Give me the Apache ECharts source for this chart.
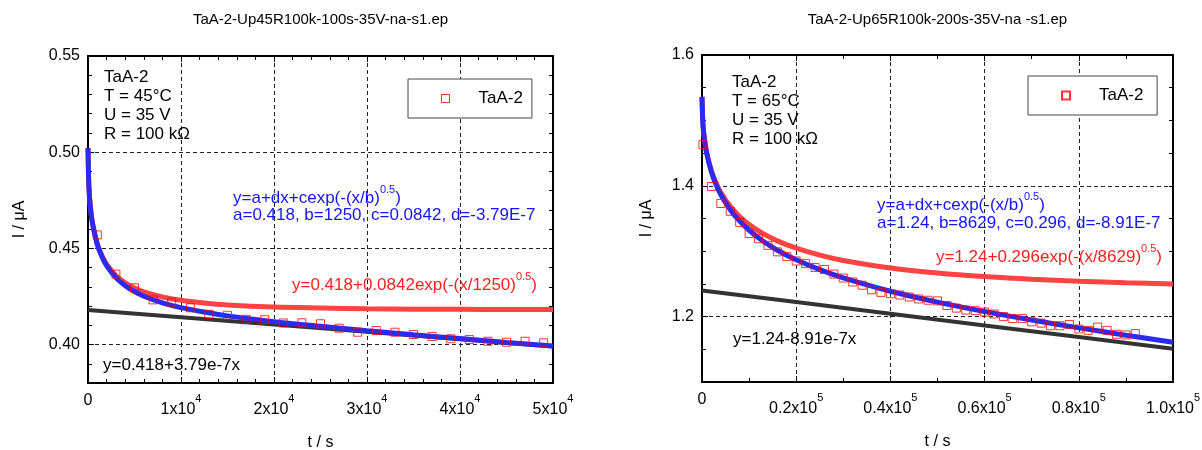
<!DOCTYPE html>
<html><head><meta charset="utf-8">
<script src="https://cdn.jsdelivr.net/npm/echarts@6/dist/echarts.min.js"></script>
<style>html,body{margin:0;padding:0;background:#fff}#c{width:1202px;height:450px}</style>
</head><body><div id="c"></div>
<script>
// ---------- data ----------
const titles = ['TaA-2-Up45R100k-100s-35V-na-s1.ep', 'TaA-2-Up65R100k-200s-35V-na -s1.ep'];
const seriesNames = ['TaA-2', 'TaA-2 '];

// left panel: measured points
const leftScatterT = [1000, 3000, 5000, 7000, 9000, 11000, 13000, 15000, 17000, 19000, 21000, 23000, 25000, 27000, 29000, 31000, 33000, 35000, 37000, 39000, 41000, 43000, 45000, 47000, 49000];
const leftScatterI = [0.457, 0.4366, 0.4295, 0.4232, 0.4220, 0.4191, 0.4157, 0.4152, 0.4131, 0.4129, 0.4112, 0.4113, 0.4108, 0.4085, 0.4064, 0.4073, 0.4064, 0.4052, 0.4042, 0.4030, 0.4026, 0.4017, 0.4012, 0.4017, 0.4009];
// left panel: fitted curves
const leftFitT   = [0, 100, 250, 500, 1000, 1500, 2000, 3000, 4000, 5000, 6000, 8000, 10000, 12500, 15000, 20000, 25000, 30000, 35000, 40000, 45000, 50000];
const leftRedFit = [0.5022, 0.4815, 0.4718, 0.4627, 0.4524, 0.4462, 0.4418, 0.4359, 0.4321, 0.4294, 0.4274, 0.4247, 0.4230, 0.4216, 0.4206, 0.4195, 0.4190, 0.4186, 0.4184, 0.4183, 0.4182, 0.4182];
const leftBlueFit = [0.5022, 0.4815, 0.4717, 0.4625, 0.4520, 0.4456, 0.4410, 0.4348, 0.4306, 0.4275, 0.4251, 0.4217, 0.4192, 0.4169, 0.4149, 0.4119, 0.4095, 0.4072, 0.4051, 0.4031, 0.4011, 0.3992];
const leftLineT = [0, 10000, 20000, 30000, 40000, 50000];
const leftLineI = [0.4180, 0.4142, 0.4104, 0.4066, 0.4028, 0.3990];

// right panel: measured points
const rightScatterT = [200, 2000, 4000, 6000, 8000, 10000, 12000, 14000, 16000, 18000, 20000, 22000, 24000, 26000, 28000, 30000, 32000, 34000, 36000, 38000, 40000, 42000, 44000, 46000, 48000, 50000, 52000, 54000, 56000, 58000, 60000, 62000, 64000, 66000, 68000, 70000, 72000, 74000, 76000, 78000, 80000, 82000, 84000, 86000, 88000, 90000, 92000];
const rightScatterI = [1.463, 1.399, 1.373, 1.361, 1.344, 1.327, 1.319, 1.309, 1.299, 1.292, 1.285, 1.281, 1.275, 1.272, 1.265, 1.259, 1.253, 1.248, 1.241, 1.237, 1.235, 1.233, 1.230, 1.227, 1.225, 1.224, 1.217, 1.213, 1.210, 1.209, 1.207, 1.204, 1.200, 1.197, 1.197, 1.192, 1.190, 1.186, 1.186, 1.188, 1.181, 1.179, 1.184, 1.179, 1.173, 1.172, 1.174];
// right panel: fitted curves
const rightFitT    = [0, 200, 500, 1000, 2000, 3000, 4000, 6000, 8000, 10000, 13000, 16000, 20000, 25000, 30000, 40000, 50000, 60000, 70000, 80000, 90000, 100000];
const rightRedFit  = [1.536, 1.4942, 1.4727, 1.4506, 1.4229, 1.4041, 1.3898, 1.3686, 1.3530, 1.3409, 1.3268, 1.3158, 1.3046, 1.2940, 1.2859, 1.2744, 1.2667, 1.2612, 1.2572, 1.2541, 1.2517, 1.2498];
const rightBlueFit = [1.536, 1.4940, 1.4723, 1.4497, 1.4211, 1.4014, 1.3862, 1.3633, 1.3459, 1.3320, 1.3152, 1.3015, 1.2868, 1.2717, 1.2592, 1.2388, 1.2221, 1.2077, 1.1948, 1.1828, 1.1715, 1.1607];
const rightLineT = [0, 20000, 40000, 60000, 80000, 100000];
const rightLineI = [1.2400, 1.2222, 1.2044, 1.1865, 1.1687, 1.1509];

// tick labels
const leftYTicks  = [0.40, 0.45, 0.50, 0.55];
const rightYTicks = [1.2, 1.4, 1.6];

// ---------- chart ----------
const FONT = 'Liberation Sans';
const zip = (xs, ys) => xs.map((x, i) => [x, ys[i]]);
const BLUE = '#1414ff', RED = '#ff1f1f';

function xMain(gi, max, interval, minorSplit, divisor, digits, exp) {
  return {
    gridIndex: gi, type: 'value', position: 'bottom', min: 0, max: max, interval: interval,
    name: 't / s', nameLocation: 'middle', nameGap: 52,
    nameTextStyle: {fontSize: 16, color: '#000', fontFamily: FONT},
    axisLine: {show: true, onZero: false, lineStyle: {color: '#000', width: 2}},
    axisTick: {show: true, inside: true, length: 6, lineStyle: {color: '#000', width: 1}},
    minorTick: {show: true, splitNumber: minorSplit, length: 4, lineStyle: {color: '#000', width: 1}},
    splitLine: {show: true, lineStyle: {color: '#222', width: 1, type: [4, 3]}},
    axisLabel: {
      show: true, margin: 10, showMinLabel: true, showMaxLabel: true, color: '#000',
      formatter: v => v === 0 ? '{z|0}' : '{m|' + (v / divisor).toFixed(digits) + 'x10}{s|' + exp + '}',
      rich: {
        z: {fontSize: 16, fontFamily: FONT, color: '#000', lineHeight: 16, verticalAlign: 'top'},
        m: {fontSize: 16, fontFamily: FONT, color: '#000', lineHeight: 34, verticalAlign: 'middle'},
        s: {fontSize: 11, fontFamily: FONT, color: '#000', lineHeight: 26, verticalAlign: 'top'}
      }
    }
  };
}
function xTop(gi, max, interval, minorSplit) {
  return {
    gridIndex: gi, type: 'value', position: 'top', min: 0, max: max, interval: interval,
    axisLine: {show: true, onZero: false, lineStyle: {color: '#000', width: 2}},
    axisTick: {show: true, inside: true, length: 6, lineStyle: {color: '#000', width: 1}},
    minorTick: {show: true, splitNumber: minorSplit, length: 4, lineStyle: {color: '#000', width: 1}},
    splitLine: {show: false}, axisLabel: {show: false}
  };
}
function yMain(gi, min, max, ticks, digits, nameGap) {
  return {
    gridIndex: gi, type: 'value', position: 'left', min: min, max: max,
    name: 'I / μA', nameLocation: 'middle', nameGap: nameGap,
    nameTextStyle: {fontSize: 16, color: '#000', fontFamily: FONT},
    axisLine: {show: true, onZero: false, lineStyle: {color: '#000', width: 2}},
    axisTick: {show: true, inside: true, length: 6, customValues: ticks, lineStyle: {color: '#000', width: 1}},
    splitLine: {show: true, lineStyle: {color: '#222', width: 1, type: [4, 3]}},
    axisLabel: {show: true, margin: 8, customValues: ticks, color: '#000', fontSize: 16, fontFamily: FONT,
      formatter: v => Number(v).toFixed(digits)}
  };
}
function yMinor(gi, min, max, interval, pos, line) {
  return {
    gridIndex: gi, type: 'value', position: pos, min: min, max: max, interval: interval,
    axisLine: {show: line, onZero: false, lineStyle: {color: '#000', width: 2}},
    axisTick: {show: true, inside: true, length: 4, lineStyle: {color: '#000', width: 1}},
    splitLine: {show: false}, axisLabel: {show: false}
  };
}
function lineSeries(xi, yi, data, color, width, z, smooth) {
  return {type: 'line', xAxisIndex: xi, yAxisIndex: yi, data: data, showSymbol: false, symbol: 'none',
    smooth: smooth, silent: true, z: z,
    lineStyle: {color: color, width: width}};
}
function scatterSeries(name, xi, yi, data) {
  return {type: 'scatter', name: name, xAxisIndex: xi, yAxisIndex: yi, data: data,
    symbol: 'rect', symbolSize: 8, z: 6, silent: true, color: '#ff0000',
    itemStyle: {color: 'rgba(255,255,255,0)', borderColor: '#ff0000', borderWidth: 1}};
}
function legend(name, left, top, icon, fill, bw) {
  return {left: left, top: top, padding: [11, 9, 11, 33], borderColor: '#444', borderWidth: 1,
    backgroundColor: '#fff', itemWidth: 8, itemHeight: 8, selectedMode: false,
    inactiveColor: '#fff', inactiveBorderColor: '#ff0000', inactiveBorderWidth: 1,
    itemStyle: {color: fill, borderColor: '#ff0000', borderWidth: bw},
    data: [{name: name, icon: icon, itemStyle: {color: fill, borderColor: '#ff0000', borderWidth: bw}}],
    textStyle: {fontSize: 17, color: '#000', fontFamily: FONT, padding: [0, 0, 0, 24]}};
}
// plain annotation text: (left x, centre y)
function txt(x, yc, s, color) {
  return {text: s, left: x, top: yc - 10, padding: 0,
    textStyle: {fontSize: 17, fontWeight: 'normal', color: color, fontFamily: FONT, lineHeight: 20}};
}
// annotation text with a superscript: (left x, centre y of main text)
function supTxt(x, yc, pre, sup, post, color) {
  return {text: '{m|' + pre + '}{s|' + sup + '}{m|' + post + '}', left: x, top: yc - 14, padding: 0,
    textStyle: {fontSize: 17, fontWeight: 'normal', color: color, fontFamily: FONT,
      rich: {
        m: {fontSize: 17, fontFamily: FONT, color: color, lineHeight: 28, verticalAlign: 'middle'},
        s: {fontSize: 11, fontFamily: FONT, color: color, lineHeight: 12, verticalAlign: 'top'}
      }}};
}

const option = {
  animation: false,
  backgroundColor: '#fff',
  textStyle: {fontFamily: FONT},
  title: [
    {text: titles[0], left: 320.5, top: 12, textAlign: 'center', padding: 0,
      textStyle: {fontSize: 15, fontWeight: 'normal', color: '#000', fontFamily: FONT}},
    {text: titles[1], left: 937.5, top: 12, textAlign: 'center', padding: 0,
      textStyle: {fontSize: 15, fontWeight: 'normal', color: '#000', fontFamily: FONT}},
    txt(104, 77, 'TaA-2', '#000'), txt(104, 96, 'T = 45°C', '#000'),
    txt(104, 115, 'U = 35 V', '#000'), txt(104, 134, 'R = 100 kΩ', '#000'),
    supTxt(233, 198, 'y=a+dx+cexp(-(x/b)', '0.5', ')', BLUE),
    txt(233, 215, 'a=0.418, b=1250, c=0.0842, d=-3.79E-7', BLUE),
    supTxt(292, 285, 'y=0.418+0.0842exp(-(x/1250)', '0.5', ')', RED),
    txt(103, 365, 'y=0.418+3.79e-7x', '#000'),
    txt(732, 82, 'TaA-2', '#000'), txt(732, 101, 'T = 65°C', '#000'),
    txt(732, 120, 'U = 35 V', '#000'), txt(732, 139, 'R = 100 kΩ', '#000'),
    supTxt(877, 205, 'y=a+dx+cexp(-(x/b)', '0.5', ')', BLUE),
    txt(877, 223, 'a=1.24, b=8629, c=0.296, d=-8.91E-7', BLUE),
    supTxt(936, 257, 'y=1.24+0.296exp(-(x/8629)', '0.5', ')', RED),
    txt(733, 339, 'y=1.24-8.91e-7x', '#000')
  ],
  legend: [legend(seriesNames[0], 408, 79, 'rect', '#fff', 1), legend(seriesNames[1], 1028, 76, 'emptyRect', '#ff0000', 0.5)],
  grid: [
    {left: 88, right: 649, top: 56, bottom: 67, containLabel: false, outerBoundsMode: 'none'},
    {left: 702, right: 29, top: 55, bottom: 68, containLabel: false, outerBoundsMode: 'none'}
  ],
  xAxis: [
    xMain(0, 50000, 10000, 5, 1e4, 0, '4'), xTop(0, 50000, 10000, 5),
    xMain(1, 100000, 20000, 2, 1e5, 1, '5'), xTop(1, 100000, 20000, 2)
  ],
  yAxis: [
    yMain(0, 0.38, 0.55, leftYTicks, 2, 60), yMinor(0, 0.38, 0.55, 0.01, 'left', false), yMinor(0, 0.38, 0.55, 0.01, 'right', true),
    yMain(1, 1.1, 1.6, rightYTicks, 1, 47), yMinor(1, 1.1, 1.6, 0.05, 'left', false), yMinor(1, 1.1, 1.6, 0.05, 'right', true)
  ],
  series: [
    lineSeries(0, 0, zip(leftLineT, leftLineI), '#333333', 4, 2, false),
    lineSeries(0, 0, zip(leftFitT, leftRedFit), '#ff4242', 5, 3, 0.3),
    lineSeries(0, 0, zip(leftFitT, leftBlueFit), '#2a2af2', 5, 4, 0.3),
    scatterSeries(seriesNames[0], 0, 0, zip(leftScatterT, leftScatterI)),
    lineSeries(2, 3, zip(rightLineT, rightLineI), '#333333', 4, 2, false),
    lineSeries(2, 3, zip(rightFitT, rightRedFit), '#ff4242', 5, 3, 0.3),
    lineSeries(2, 3, zip(rightFitT, rightBlueFit), '#2a2af2', 5, 4, 0.3),
    scatterSeries(seriesNames[1], 2, 3, zip(rightScatterT, rightScatterI))
  ]
};
const chart = echarts.init(document.getElementById('c'), null, {renderer: 'canvas'});
chart.setOption(option);
</script>
</body></html>
